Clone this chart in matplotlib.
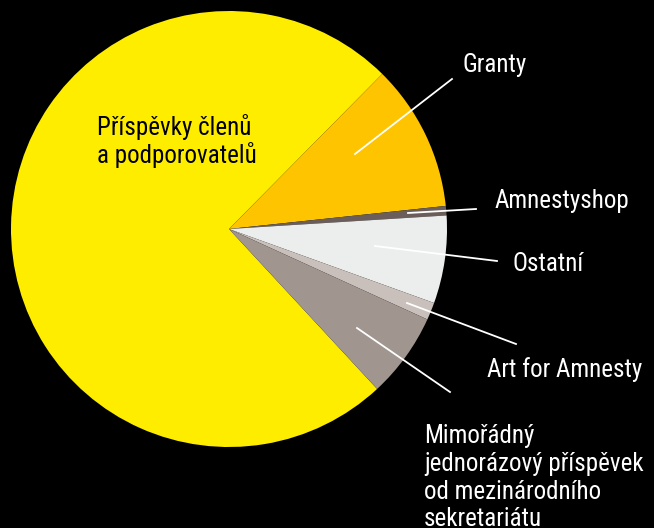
import matplotlib
matplotlib.use('Agg')
import matplotlib.pyplot as plt

# data (shares in %)
labels = ['Příspěvky členů\na podporovatelů', 'Granty', 'Amnestyshop', 'Ostatní',
          'Art for Amnesty', 'Mimořádný\njednorázový příspěvek\nod mezinárodního\nsekretariátu']
values = [74.3, 10.9, 0.7, 6.5, 1.3, 6.3]
colors = ['#FFED00', '#FFC400', '#6B5E5A', '#ECEEED', '#C9C0BC', '#A0958F']

plt.rcParams['font.family'] = ['Roboto Condensed', 'DejaVu Sans']

W, H = 654, 528
fig = plt.figure(figsize=(W / 100, H / 100), dpi=100, facecolor='black')
ax = fig.add_axes([0, 0, 1, 1])
ax.set_facecolor('black')

cx, cy, r = 229, H - 229, 218
ax.pie(values, colors=colors, startangle=-47.2, counterclock=False,
       center=(cx, cy), radius=r, frame=True,
       wedgeprops=dict(linewidth=0))
ax.set_xlim(0, W)
ax.set_ylim(0, H)
ax.set_aspect('equal')
ax.axis('off')

# leader lines (start, end) and label anchor (left, first baseline), pixel coords
leaders = [
    ((355, 154), (452, 79), (462, 72)),
    ((408, 213), (476, 209), (495, 208)),
    ((375, 246), (497, 261), (513, 271)),
    ((407, 303), (516, 344), (487, 377)),
    ((357, 328), (450, 392), (424, 443)),
]
fs = 18
step = 27.8


def draw_label(x, y, text, color):
    for i, line in enumerate(text.split('\n')):
        ax.text(x, H - (y + i * step), line, color=color, fontsize=fs,
                ha='left', va='baseline')


for (s, e, t), lab in zip(leaders, labels[1:]):
    ax.plot([s[0], e[0]], [H - s[1], H - e[1]], color='white', lw=1.3)
    draw_label(t[0], t[1], lab, 'white')

draw_label(97, 135, labels[0], 'black')

fig.savefig('out.png', dpi=100, facecolor='black')
